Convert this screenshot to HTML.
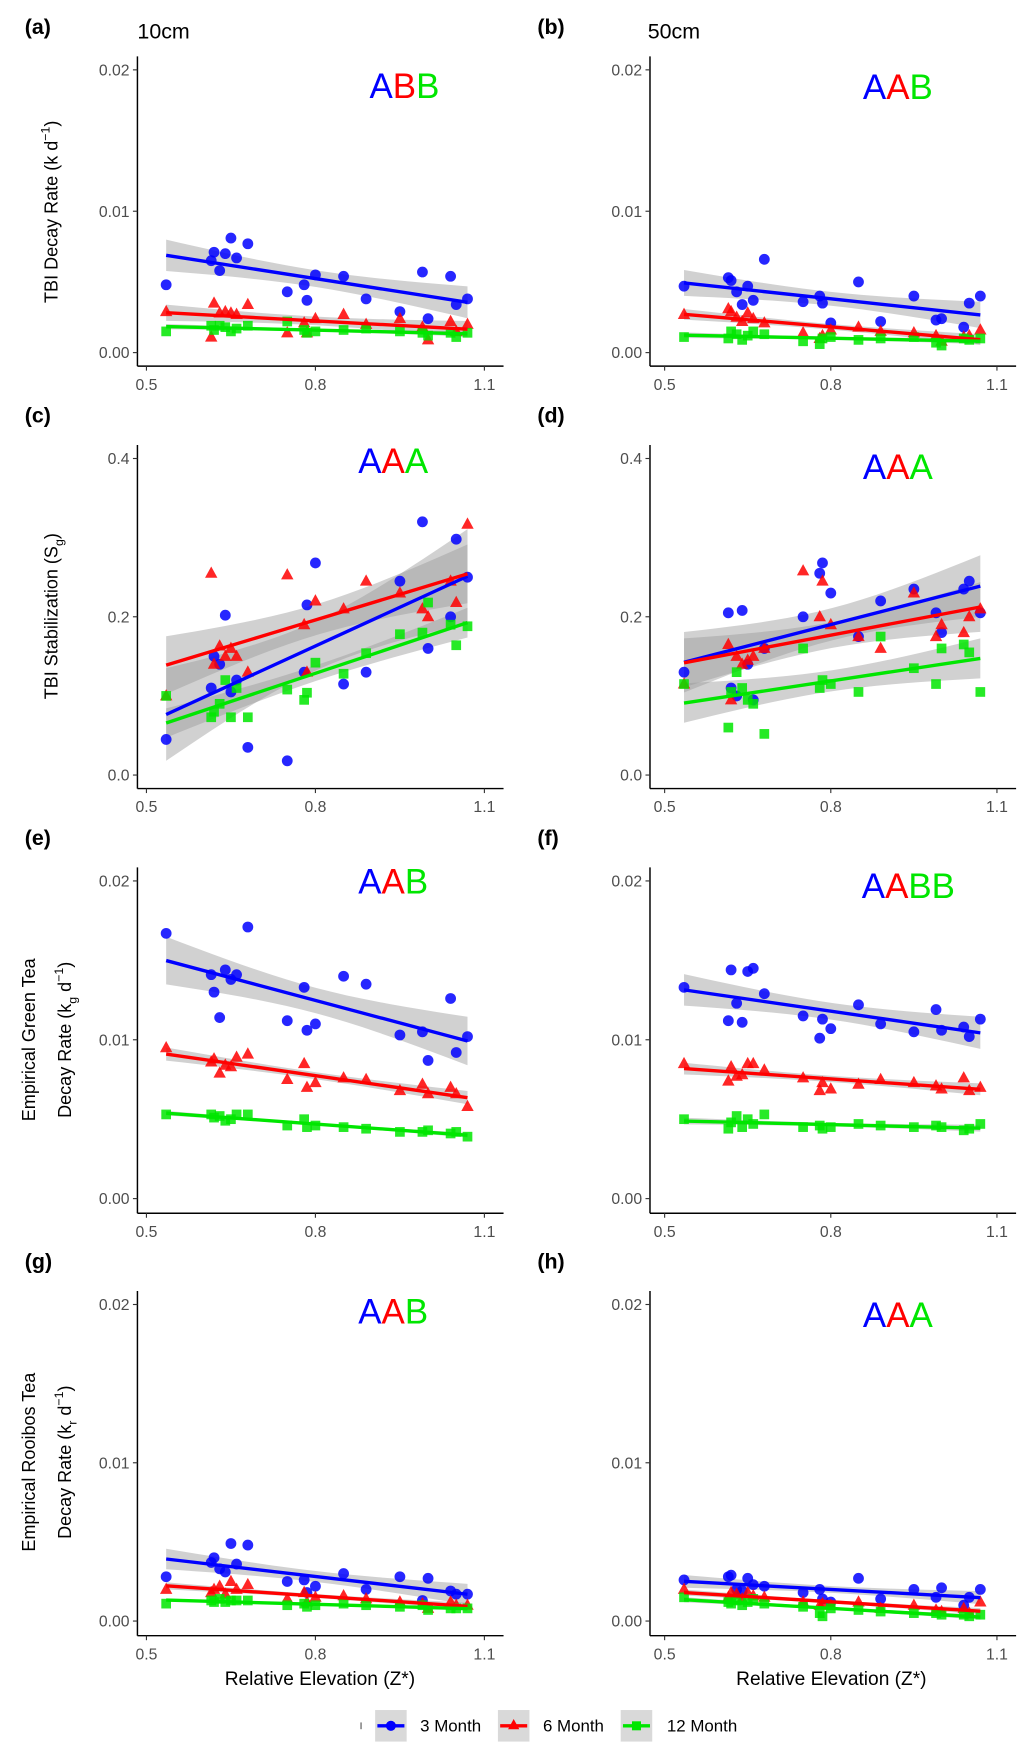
<!DOCTYPE html>
<html><head><meta charset="utf-8"><style>
html,body{margin:0;padding:0;background:#fff}
svg{display:block;font-family:"Liberation Sans",Arial,sans-serif}
</style></head><body>
<svg id="fig" width="1033" height="1763" viewBox="0 0 917 1565" xmlns="http://www.w3.org/2000/svg"></svg>
<script>
const sites=[0.535,0.615,0.62,0.63,0.64,0.65,0.66,0.68,0.75,0.78,0.785,0.80,0.85,0.89,0.95,0.99,1.0,1.04,1.05,1.07];
const aBlue=[0.0048,0.0065,0.0071,0.0058,0.0070,0.0081,0.0067,0.0077,0.0043,0.0048,0.0037,0.0055,0.0054,0.0038,0.0029,0.0057,0.0024,0.0054,0.0034,0.0038];
const aRed=[0.0029,0.0011,0.0035,0.0028,0.0029,0.0028,0.0027,0.0034,0.0014,0.0021,0.0014,0.0024,0.0027,0.0020,0.0024,0.0018,0.0009,0.0022,0.0015,0.0020];
const aGreen=[0.0015,0.0019,0.0016,0.0019,0.0018,0.0015,0.0017,0.0019,0.0022,0.0016,0.0014,0.0015,0.0016,0.0017,0.0015,0.0014,0.0012,0.0014,0.0011,0.0014];
const bBlue=[0.0047,0.0053,0.0051,0.0043,0.0034,0.0047,0.0037,0.0066,0.0036,0.0040,0.0035,0.0021,0.0050,0.0022,0.0040,0.0023,0.0024,0.0018,0.0035,0.0040];
const bRed=[0.0027,0.0031,0.0029,0.0025,0.0022,0.0028,0.0024,0.0021,0.0014,0.0010,0.0012,0.0016,0.0018,0.0015,0.0014,0.0012,0.0008,0.0011,0.0012,0.0016];
const bGreen=[0.0011,0.0010,0.0015,0.0013,0.0009,0.0012,0.0015,0.0013,0.0008,0.0006,0.0010,0.0011,0.0009,0.0010,0.0011,0.0007,0.0005,0.0010,0.0009,0.0010];
const cBlue=[0.045,0.110,0.150,0.140,0.202,0.105,0.120,0.035,0.018,0.130,0.215,0.268,0.115,0.130,0.245,0.320,0.160,0.200,0.298,0.250];
const cRed=[0.100,0.255,0.140,0.163,0.150,0.160,0.150,0.130,0.253,0.190,0.130,0.220,0.210,0.245,0.230,0.210,0.200,0.245,0.218,0.317];
const cGreen=[0.100,0.073,0.080,0.090,0.120,0.073,0.110,0.073,0.108,0.095,0.104,0.142,0.128,0.154,0.178,0.180,0.218,0.190,0.164,0.188];
const dBlue=[0.130,0.205,0.110,0.100,0.208,0.140,0.095,0.160,0.200,0.255,0.268,0.230,0.175,0.220,0.235,0.205,0.180,0.235,0.245,0.205];
const dRed=[0.115,0.165,0.095,0.150,0.140,0.145,0.150,0.160,0.258,0.200,0.245,0.190,0.175,0.160,0.230,0.175,0.190,0.180,0.200,0.210];
const dGreen=[0.115,0.060,0.105,0.130,0.110,0.095,0.090,0.052,0.160,0.110,0.120,0.115,0.105,0.175,0.135,0.115,0.160,0.165,0.155,0.105];
const eBlue=[0.0167,0.0141,0.0130,0.0114,0.0144,0.0138,0.0141,0.0171,0.0112,0.0133,0.0106,0.0110,0.0140,0.0135,0.0103,0.0105,0.0087,0.0126,0.0092,0.0102];
const eRed=[0.0095,0.0086,0.0088,0.0079,0.0084,0.0083,0.0089,0.0091,0.0075,0.0085,0.0070,0.0073,0.0076,0.0075,0.0068,0.0072,0.0066,0.0070,0.0066,0.0058];
const eGreen=[0.0053,0.0053,0.0051,0.0052,0.0049,0.0050,0.0053,0.0053,0.0046,0.0050,0.0045,0.0046,0.0045,0.0044,0.0042,0.0042,0.0043,0.0041,0.0042,0.0039];
const fBlue=[0.0133,0.0112,0.0144,0.0123,0.0111,0.0143,0.0145,0.0129,0.0115,0.0101,0.0113,0.0107,0.0122,0.0110,0.0105,0.0119,0.0106,0.0108,0.0102,0.0113];
const fRed=[0.0085,0.0074,0.0083,0.0077,0.0078,0.0085,0.0085,0.0081,0.0076,0.0068,0.0073,0.0069,0.0072,0.0075,0.0073,0.0071,0.0069,0.0076,0.0068,0.0070];
const fGreen=[0.0050,0.0044,0.0048,0.0052,0.0045,0.0050,0.0047,0.0053,0.0045,0.0046,0.0044,0.0045,0.0047,0.0046,0.0045,0.0046,0.0045,0.0043,0.0044,0.0047];
const gBlue=[0.0028,0.0037,0.0040,0.0033,0.0031,0.0049,0.0036,0.0048,0.0025,0.0026,0.0018,0.0022,0.0030,0.0020,0.0028,0.0013,0.0027,0.0019,0.0017,0.0017];
const gRed=[0.0020,0.0018,0.0020,0.0022,0.0017,0.0025,0.0020,0.0023,0.0014,0.0018,0.0012,0.0015,0.0016,0.0014,0.0012,0.0011,0.0008,0.0012,0.0010,0.0010];
const gGreen=[0.0011,0.0013,0.0012,0.0014,0.0012,0.0013,0.0013,0.0013,0.0010,0.0011,0.0009,0.0010,0.0011,0.0010,0.0009,0.0010,0.0007,0.0008,0.0008,0.0008];
const hBlue=[0.0026,0.0028,0.0029,0.0020,0.0019,0.0027,0.0023,0.0022,0.0018,0.0020,0.0014,0.0012,0.0027,0.0014,0.0020,0.0015,0.0021,0.0010,0.0015,0.0020];
const hRed=[0.0020,0.0015,0.0018,0.0017,0.0014,0.0018,0.0016,0.0015,0.0012,0.0010,0.0011,0.0010,0.0012,0.0008,0.0010,0.0007,0.0006,0.0008,0.0005,0.0012];
const hGreen=[0.0015,0.0012,0.0011,0.0013,0.0010,0.0012,0.0014,0.0011,0.0009,0.0005,0.0003,0.0008,0.0007,0.0006,0.0005,0.0005,0.0004,0.0004,0.0003,0.0004];
const xTicks=[0.5,0.8,1.1];
const xTickLabels=["0.5","0.8","1.1"];
const rateTicks=[0,0.01,0.02];
const rateTickLabels=["0.00","0.01","0.02"];
const stabTicks=[0,0.2,0.4];
const stabTickLabels=["0.0","0.2","0.4"];

const NS="http://www.w3.org/2000/svg";
const svg=document.getElementById('fig');
function mk(tag,attrs,parent){const e=document.createElementNS(NS,tag);for(const k in attrs)e.setAttribute(k,attrs[k]);(parent||svg).appendChild(e);return e;}
const COL={blue:"#0000ff",red:"#ff0000",green:"#00e600"};

function panel(p){
  const g=mk('g',{});
  
  
  const xs=v=>p.x0+(v-0.5)*(p.x1-p.x0)/0.6;
  const ys=v=>p.yb-(v-p.t[0])*(p.yb-p.yt)/(p.t[2]-p.t[0]);
  const ya=mk('line',{x1:p.ax,x2:p.ax,y1:p.top,y2:p.bot,stroke:"#000","stroke-width":1.3},g);
  
  
  const xa=mk('line',{x1:p.ax,x2:p.ax+325,y1:p.bot,y2:p.bot,stroke:"#000","stroke-width":1.3},g);
  
  
  p.t.forEach((v,i)=>{
    const y=ys(v);
    mk('line',{x1:p.ax-4,x2:p.ax,y1:y,y2:y,stroke:"#333"},g);
    const t=mk('text',{x:p.ax-7,y:y+5,"text-anchor":"end","font-size":14,fill:"#4d4d4d"},g);
    t.textContent=p.tl[i];
    
    
  });
  xTicks.forEach((v,i)=>{
    const x=xs(v);
    mk('line',{x1:x,x2:x,y1:p.bot,y2:p.bot+4,stroke:"#333"},g);
    const t=mk('text',{x:x,y:p.bot+21,"text-anchor":"middle","font-size":14,fill:"#4d4d4d"},g);
    t.textContent=xTickLabels[i];
    
    
  });
  const order=[["blue",p.s[0]],["red",p.s[1]],["green",p.s[2]]];
  const fits=order.map(([c,ys_])=>{
    const n=sites.length;let mx=0,my=0;for(let i=0;i<n;i++){mx+=sites[i];my+=ys_[i];}mx/=n;my/=n;
    let sxx=0,sxy=0;for(let i=0;i<n;i++){sxx+=(sites[i]-mx)**2;sxy+=(sites[i]-mx)*(ys_[i]-my);}
    const b=sxy/sxx,a=my-b*mx;let sse=0;for(let i=0;i<n;i++)sse+=(ys_[i]-a-b*sites[i])**2;
    const s=Math.sqrt(sse/(n-2));return {c,a,b,s,mx,sxx,n,ys_};
  });
  const xmin=Math.min(...sites),xmax=Math.max(...sites);
  fits.forEach(f=>{
    let up=[],lo=[];
    for(let k=0;k<=20;k++){const x=xmin+(xmax-xmin)*k/20;const yh=f.a+f.b*x;
      const se=2.1*f.s*Math.sqrt(1/f.n+(x-f.mx)**2/f.sxx);
      up.push(xs(x)+","+ys(yh+se));lo.unshift(xs(x)+","+ys(yh-se));}
    const band=mk('polygon',{points:up.concat(lo).join(" "),fill:"#999","fill-opacity":0.45},g);
    
    
  });
  fits.forEach(f=>{
    const col=COL[f.c];
    f.ys_.forEach((v,i)=>{
      const x=xs(sites[i]),y=ys(v);let m;
      if(f.c==="blue")m=mk('circle',{cx:x,cy:y,r:4.8,fill:col,"fill-opacity":0.85},g);
      else if(f.c==="red")m=mk('polygon',{points:`${x},${y-6} ${x-5.5},${y+4} ${x+5.5},${y+4}`,fill:col,"fill-opacity":0.85},g);
      else m=mk('rect',{x:x-4.3,y:y-4.3,width:8.6,height:8.6,fill:col,"fill-opacity":0.85},g);
      
      
    });
  });
  fits.forEach(f=>{
    const l=mk('line',{x1:xs(xmin),y1:ys(f.a+f.b*xmin),x2:xs(xmax),y2:ys(f.a+f.b*xmax),stroke:COL[f.c],"stroke-width":3},g);
    
    
  });
  const lt=mk('text',{x:p.lx,y:p.ly,"font-size":31},g);
  
  
  const cs=[COL.blue,COL.red,COL.green,COL.green];
  p.letters.split("").forEach((ch,i)=>{const ts=mk('tspan',{fill:cs[i]},lt);ts.textContent=ch;});
  const pl=mk('text',{x:p.ax-100,y:p.top-20,"font-size":19,"font-weight":"bold"},g);
  pl.textContent="("+p.id+")";
  
  
}
const L={ax:122,x0:130,x1:430},R={ax:577,x0:590,x1:885};
const rows=[{top:50,bot:325,yt:62,yb:313},{top:395,bot:700,yt:407,yb:688},{top:770,bot:1077,yt:782,yb:1064},{top:1146,bot:1452,yt:1158,yb:1439}];
const specs=[
 ["a",L,0,[aBlue,aRed,aGreen],rateTicks,rateTickLabels,"ABB",328,87],
 ["b",R,0,[bBlue,bRed,bGreen],rateTicks,rateTickLabels,"AAB",766,88],
 ["c",L,1,[cBlue,cRed,cGreen],stabTicks,stabTickLabels,"AAA",318,420],
 ["d",R,1,[dBlue,dRed,dGreen],stabTicks,stabTickLabels,"AAA",766,425],
 ["e",L,2,[eBlue,eRed,eGreen],rateTicks,rateTickLabels,"AAB",318,793],
 ["f",R,2,[fBlue,fRed,fGreen],rateTicks,rateTickLabels,"AABB",765,797],
 ["g",L,3,[gBlue,gRed,gGreen],rateTicks,rateTickLabels,"AAB",318,1175],
 ["h",R,3,[hBlue,hRed,hGreen],rateTicks,rateTickLabels,"AAA",766,1178]];
specs.forEach(s=>{const c=s[1],r=rows[s[2]];
  panel({id:s[0],ax:c.ax,x0:c.x0,x1:c.x1,top:r.top,bot:r.bot,yt:r.yt,yb:r.yb,s:s[3],t:s[4],tl:s[5],letters:s[6],lx:s[7],ly:s[8]});});
</script>
<script>
(function(){
const NS="http://www.w3.org/2000/svg",svg=document.getElementById('fig');
function t(x,y,txt,size,name,extra){const e=document.createElementNS(NS,'text');e.setAttribute('x',x);e.setAttribute('y',y);e.setAttribute('font-size',size);
 if(extra)for(const k in extra)e.setAttribute(k,extra[k]);e.innerHTML=txt;svg.appendChild(e);
 
 return e;}
t(122,34,"10cm",19,"column-title-10cm");
t(575,34,"50cm",19,"column-title-50cm");
t(0,0,'TBI Decay Rate (k d<tspan dy="-7" font-size="11">−1</tspan><tspan dy="7">)</tspan>',16,"y-axis-title-a",{transform:"translate(51,188) rotate(-90)","text-anchor":"middle"});
t(0,0,'TBI Stabilization (S<tspan dy="5" font-size="11">g</tspan><tspan dy="-5">)</tspan>',16,"y-axis-title-c",{transform:"translate(51,547) rotate(-90)","text-anchor":"middle"});
t(0,0,'Empirical Green Tea',16,"y-axis-title-e1",{transform:"translate(31,923) rotate(-90)","text-anchor":"middle"});
t(0,0,'Decay Rate (k<tspan dy="5" font-size="11">g</tspan><tspan dy="-5"> d</tspan><tspan dy="-7" font-size="11">−1</tspan><tspan dy="7">)</tspan>',16,"y-axis-title-e2",{transform:"translate(63,923) rotate(-90)","text-anchor":"middle"});
t(0,0,'Empirical Rooibos Tea',16,"y-axis-title-g1",{transform:"translate(31,1298) rotate(-90)","text-anchor":"middle"});
t(0,0,'Decay Rate (k<tspan dy="5" font-size="11">r</tspan><tspan dy="-5"> d</tspan><tspan dy="-7" font-size="11">−1</tspan><tspan dy="7">)</tspan>',16,"y-axis-title-g2",{transform:"translate(63,1298) rotate(-90)","text-anchor":"middle"});
t(284,1496,"Relative Elevation (Z*)",17,"x-axis-title-left",{"text-anchor":"middle"});
t(738,1496,"Relative Elevation (Z*)",17,"x-axis-title-right",{"text-anchor":"middle"});
const lg=document.createElementNS(NS,'g');svg.appendChild(lg);


lg.innerHTML='<rect x="320" y="1529" width="1" height="6" fill="#555"/>'+
'<rect x="333" y="1518" width="28" height="28" fill="#d9d9d9"/><line x1="335" x2="359" y1="1532" y2="1532" stroke="#0000ff" stroke-width="3"/><circle cx="347" cy="1532" r="4.5" fill="#0000ff"/>'+
'<text x="373" y="1537" font-size="15">3 Month</text>'+
'<rect x="442" y="1518" width="28" height="28" fill="#d9d9d9"/><line x1="444" x2="468" y1="1532" y2="1532" stroke="#ff0000" stroke-width="3"/><polygon points="456,1526 451,1535 461,1535" fill="#ff0000"/>'+
'<text x="482" y="1537" font-size="15">6 Month</text>'+
'<rect x="551" y="1518" width="28" height="28" fill="#d9d9d9"/><line x1="553" x2="577" y1="1532" y2="1532" stroke="#00e600" stroke-width="3"/><rect x="561" y="1528" width="8" height="8" fill="#00e600"/>'+
'<text x="592" y="1537" font-size="15">12 Month</text>';
})();
</script>
</body></html>
